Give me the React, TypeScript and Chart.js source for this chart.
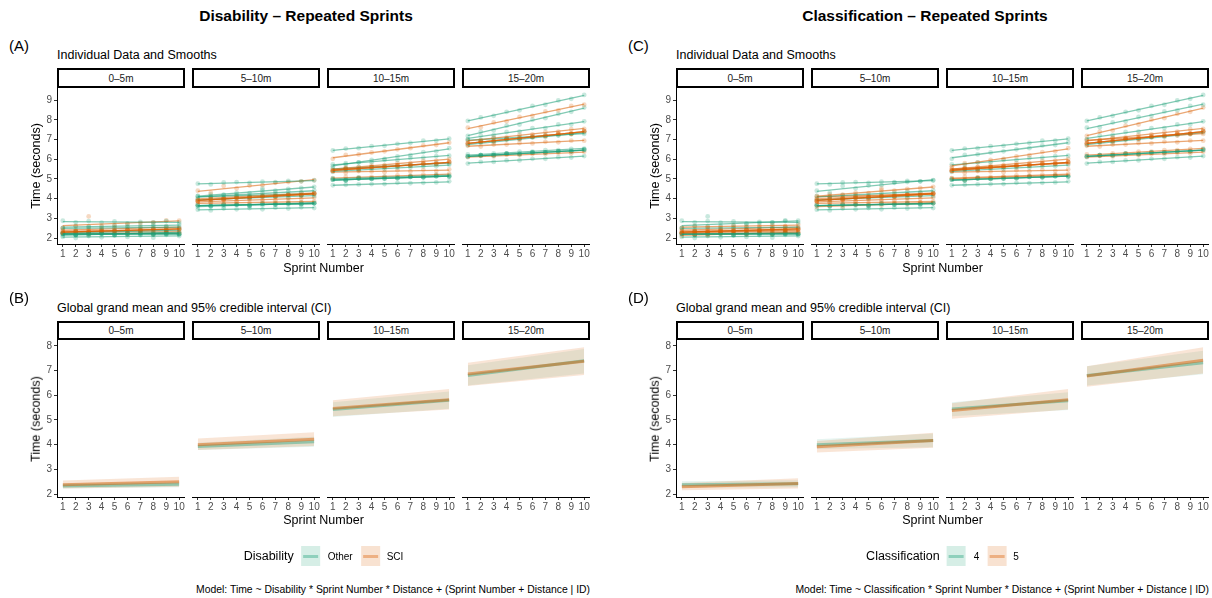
import React, { useEffect, useRef } from "react";
import { Chart, registerables } from "chart.js";

Chart.register(...registerables);

const FONT = "'Liberation Sans', Arial, Helvetica, sans-serif";
Chart.defaults.font.family = FONT;

// ---------------- DATA ----------------
const DISTANCES = ["0–5m", "5–10m", "10–15m", "15–20m"];
const SPRINTS = [1, 2, 3, 4, 5, 6, 7, 8, 9, 10];
const X_TICKS = [1, 2, 3, 4, 5, 6, 7, 8, 9, 10];
const Y_TICKS_A = [2, 3, 4, 5, 6, 7, 8, 9];
const Y_TICKS_B = [2, 3, 4, 5, 6, 7, 8];

const IDS = ["P1", "P2", "P3", "P4", "P5", "P6", "P7", "P8", "P9", "P10", "P11", "P12", "P13"];
const DISABILITY = ["Other", "SCI", "Other", "Other", "SCI", "SCI", "Other", "Other", "SCI", "Other", "Other", "SCI", "Other"];
const CLASSIFICATION = ["4", "4", "5", "4", "5", "5", "5", "4", "5", "4", "5", "5", "4"];
// number of recorded sessions per athlete (overlapping traces)
const SESSIONS = [1, 1, 1, 1, 1, 3, 1, 1, 1, 3, 1, 1, 1];

const TIME_0_5 = [
  [2.88, 2.80, 2.86, 2.78, 2.84, 2.74, 2.82, 2.80, 2.86, 2.78],
  [2.52, 2.60, 3.10, 2.62, 2.62, 2.70, 2.76, 2.80, 2.90, 2.88],
  [2.52, 2.62, 2.58, 2.55, 2.66, 2.58, 2.62, 2.68, 2.60, 2.68],
  [2.50, 2.44, 2.58, 2.48, 2.54, 2.56, 2.48, 2.60, 2.52, 2.56],
  [2.42, 2.36, 2.48, 2.44, 2.50, 2.44, 2.54, 2.50, 2.58, 2.52],
  [2.28, 2.34, 2.30, 2.38, 2.36, 2.42, 2.38, 2.46, 2.42, 2.46],
  [2.26, 2.22, 2.32, 2.28, 2.36, 2.30, 2.38, 2.40, 2.34, 2.42],
  [2.22, 2.16, 2.26, 2.20, 2.24, 2.28, 2.18, 2.26, 2.30, 2.22],
  [2.36, 2.30, 2.40, 2.34, 2.38, 2.28, 2.40, 2.34, 2.38, 2.32],
  [2.22, 2.16, 2.22, 2.24, 2.16, 2.22, 2.24, 2.18, 2.22, 2.20],
  [2.12, 2.18, 2.14, 2.22, 2.24, 2.18, 2.28, 2.22, 2.32, 2.28],
  [2.24, 2.30, 2.20, 2.28, 2.24, 2.20, 2.30, 2.22, 2.28, 2.26],
  [2.06, 2.00, 2.10, 2.04, 2.12, 2.06, 2.14, 2.02, 2.16, 2.10],
];
const TIME_5_10 = [
  [4.76, 4.72, 4.82, 4.84, 4.80, 4.86, 4.84, 4.90, 4.88, 4.92],
  [4.40, 4.30, 4.64, 4.52, 4.66, 4.68, 4.80, 4.84, 4.88, 4.94],
  [4.12, 4.22, 4.20, 4.30, 4.28, 4.42, 4.40, 4.50, 4.54, 4.60],
  [4.14, 4.06, 4.18, 4.20, 4.16, 4.28, 4.30, 4.38, 4.32, 4.42],
  [3.96, 4.08, 4.02, 4.12, 4.10, 4.16, 4.22, 4.18, 4.30, 4.28],
  [3.88, 3.98, 3.96, 4.04, 4.06, 4.12, 4.10, 4.20, 4.18, 4.26],
  [4.04, 4.12, 4.06, 4.14, 4.08, 4.52, 4.14, 4.20, 4.16, 4.22],
  [3.96, 3.90, 4.02, 4.04, 4.00, 4.08, 4.12, 4.06, 4.16, 4.14],
  [3.86, 3.82, 3.92, 3.88, 3.96, 3.94, 3.92, 4.02, 4.00, 4.06],
  [3.66, 3.62, 3.70, 3.70, 3.64, 3.74, 3.70, 3.76, 3.72, 3.76],
  [3.58, 3.66, 3.60, 3.68, 3.70, 3.66, 3.76, 3.72, 3.80, 3.78],
  [3.74, 3.80, 3.74, 3.82, 3.78, 3.84, 3.80, 3.86, 3.82, 3.86],
  [3.44, 3.40, 3.50, 3.46, 3.52, 3.46, 3.54, 3.50, 3.56, 3.52],
];
const TIME_10_15 = [
  [6.44, 6.54, 6.56, 6.66, 6.68, 6.78, 6.82, 6.94, 6.94, 7.04],
  [6.02, 6.22, 6.24, 6.34, 6.40, 6.50, 6.56, 6.70, 6.72, 6.84],
  [5.64, 5.80, 5.84, 5.96, 6.02, 6.14, 6.20, 6.36, 6.40, 6.56],
  [5.74, 5.72, 5.84, 5.84, 5.96, 5.96, 6.06, 6.08, 6.16, 6.18],
  [5.46, 5.58, 5.60, 5.68, 5.70, 5.80, 5.80, 5.92, 5.92, 6.02],
  [5.42, 5.52, 5.50, 5.60, 5.60, 5.68, 5.68, 5.78, 5.76, 5.86],
  [5.54, 5.50, 5.60, 5.58, 5.66, 5.64, 5.72, 5.72, 5.80, 5.78],
  [5.36, 5.46, 5.44, 5.52, 5.50, 5.58, 5.58, 5.64, 5.64, 5.72],
  [5.38, 5.30, 5.40, 5.38, 5.34, 5.44, 5.38, 5.46, 5.40, 5.48],
  [4.96, 4.92, 5.02, 5.00, 5.02, 5.04, 5.10, 5.08, 5.14, 5.12],
  [5.04, 4.96, 5.06, 5.04, 5.10, 5.08, 5.14, 5.12, 5.20, 5.18],
  [5.02, 5.10, 5.08, 5.10, 5.12, 5.18, 5.16, 5.22, 5.20, 5.26],
  [4.68, 4.70, 4.72, 4.74, 4.74, 4.80, 4.78, 4.80, 4.82, 4.88],
];
const TIME_15_20 = [
  [7.94, 8.12, 8.20, 8.40, 8.48, 8.70, 8.76, 8.98, 9.06, 9.26],
  [7.60, 7.62, 7.86, 7.92, 8.14, 8.20, 8.42, 8.48, 8.70, 8.76],
  [7.18, 7.40, 7.46, 7.70, 7.76, 8.00, 8.08, 8.30, 8.40, 8.62],
  [7.02, 7.20, 7.22, 7.38, 7.40, 7.58, 7.58, 7.76, 7.76, 7.92],
  [6.94, 6.96, 7.10, 7.10, 7.24, 7.26, 7.38, 7.40, 7.52, 7.54],
  [6.80, 6.88, 6.92, 7.02, 7.04, 7.14, 7.18, 7.28, 7.30, 7.42],
  [6.98, 6.96, 7.06, 7.06, 7.12, 7.12, 7.22, 7.20, 7.28, 7.28],
  [6.72, 6.84, 6.86, 6.98, 7.00, 7.10, 7.12, 7.22, 7.26, 7.36],
  [6.68, 6.64, 6.74, 6.74, 6.82, 6.80, 6.88, 6.86, 6.94, 6.94],
  [6.14, 6.20, 6.20, 6.28, 6.26, 6.34, 6.34, 6.40, 6.40, 6.48],
  [6.24, 6.20, 6.30, 6.30, 6.38, 6.38, 6.46, 6.46, 6.52, 6.54],
  [6.10, 6.16, 6.14, 6.22, 6.20, 6.26, 6.26, 6.32, 6.30, 6.38],
  [5.78, 5.86, 5.86, 5.94, 5.94, 6.02, 6.02, 6.10, 6.08, 6.16],
];
const TIMES = [TIME_0_5, TIME_5_10, TIME_10_15, TIME_15_20];

// Global grand mean and 95% CI at sprint 1 and sprint 10, per distance
const MEAN_SPRINTS = [1, 10];
const DIS_OTHER_MEAN = [[2.33, 2.40], [3.93, 4.12], [5.42, 5.80], [6.80, 7.40]];
const DIS_OTHER_LO = [[2.22, 2.28], [3.78, 3.92], [5.12, 5.45], [6.40, 6.88]];
const DIS_OTHER_HI = [[2.44, 2.52], [4.08, 4.32], [5.72, 6.15], [7.22, 7.88]];
const DIS_SCI_MEAN = [[2.38, 2.50], [4.00, 4.22], [5.47, 5.82], [6.86, 7.38]];
const DIS_SCI_LO = [[2.22, 2.30], [3.78, 3.95], [5.15, 5.42], [6.38, 6.82]];
const DIS_SCI_HI = [[2.55, 2.70], [4.25, 4.50], [5.80, 6.25], [7.32, 7.95]];

const CLS_4_MEAN = [[2.38, 2.42], [4.00, 4.17], [5.45, 5.78], [6.80, 7.32]];
const CLS_4_LO = [[2.25, 2.28], [3.82, 3.90], [5.15, 5.40], [6.40, 6.85]];
const CLS_4_HI = [[2.52, 2.56], [4.22, 4.45], [5.72, 6.12], [7.18, 7.80]];
const CLS_5_MEAN = [[2.30, 2.43], [3.92, 4.17], [5.38, 5.82], [6.78, 7.42]];
const CLS_5_LO = [[2.15, 2.22], [3.68, 3.88], [5.05, 5.42], [6.35, 6.88]];
const CLS_5_HI = [[2.45, 2.64], [4.15, 4.48], [5.68, 6.25], [7.18, 7.95]];

const DIS_LEVELS = ["Other", "SCI"];
const CLS_LEVELS = ["4", "5"];

// ---------------- STYLE / LAYOUT ----------------
const TEAL = [27, 158, 119];
const ORANGE = [217, 95, 2];
const rgba = (c: number[], a: number) => `rgba(${c[0]},${c[1]},${c[2]},${a})`;
const RIBBON_ALPHA = [0.11, 0.16];
const MEAN_ALPHA = [0.4, 0.48];

const HALF_X = [0, 619];
const FACET_LEFT = [57, 192, 327, 462];
const FACET_W = 128;
const Y_AXIS_W = 52;
const X_AXIS_H = 22;
const ROW_STRIP_TOP = [68, 321];
const ROW_STRIP_H = [20, 19];
const ROW_PLOT_TOP = [88, 340];
const ROW_PLOT_H = [156, 157];
const ROW_Y_RANGE = [
  [1.7, 9.61],
  [1.88, 8.24],
];
const ROW_Y_TICKS = [Y_TICKS_A, Y_TICKS_B];

function lmFit(ys: number[]) {
  const n = SPRINTS.length;
  const mx = SPRINTS.reduce((a, b) => a + b, 0) / n;
  const my = ys.reduce((a, b) => a + b, 0) / n;
  let sxy = 0;
  let sxx = 0;
  for (let i = 0; i < n; i++) {
    sxy += (SPRINTS[i] - mx) * (ys[i] - my);
    sxx += (SPRINTS[i] - mx) ** 2;
  }
  const b = sxy / sxx;
  const a = my - b * mx;
  const x0 = SPRINTS[0];
  const x1 = SPRINTS[n - 1];
  return [
    { x: x0, y: a + b * x0 },
    { x: x1, y: a + b * x1 },
  ];
}

function groupColor(half: number, i: number) {
  if (half === 0) return DISABILITY[i] === DIS_LEVELS[0] ? TEAL : ORANGE;
  return CLASSIFICATION[i] === CLS_LEVELS[0] ? TEAL : ORANGE;
}

function buildIndividual(half: number, d: number) {
  const ds: any[] = [];
  IDS.forEach((_, i) => {
    const col = groupColor(half, i);
    const ys = TIMES[d][i];
    for (let r = 0; r < SESSIONS[i]; r++) {
      ds.push({
        type: "scatter",
        data: SPRINTS.map((x, k) => ({ x, y: ys[k] })),
        showLine: false,
        pointRadius: 2.4,
        pointBackgroundColor: rgba(col, 0.24),
        pointBorderWidth: 0,
        pointBorderColor: "transparent",
        order: 2,
      });
      ds.push({
        type: "line",
        data: lmFit(ys),
        borderColor: rgba(col, 0.55),
        borderWidth: 1.3,
        pointRadius: 0,
        fill: false,
        order: 1,
      });
    }
  });
  return ds;
}

function buildMeans(half: number, d: number) {
  const groups =
    half === 0
      ? [
          { col: TEAL, m: DIS_OTHER_MEAN, lo: DIS_OTHER_LO, hi: DIS_OTHER_HI },
          { col: ORANGE, m: DIS_SCI_MEAN, lo: DIS_SCI_LO, hi: DIS_SCI_HI },
        ]
      : [
          { col: TEAL, m: CLS_4_MEAN, lo: CLS_4_LO, hi: CLS_4_HI },
          { col: ORANGE, m: CLS_5_MEAN, lo: CLS_5_LO, hi: CLS_5_HI },
        ];
  const ds: any[] = [];
  const pts = (arr: number[]) => MEAN_SPRINTS.map((x, k) => ({ x, y: arr[k] }));
  // first group drawn first (higher order = drawn earlier)
  groups.forEach((g, gi) => {
    const ribbonOrder = 10 - gi;
    ds.push({
      type: "line",
      data: pts(g.lo[d]),
      borderColor: "transparent",
      borderWidth: 0,
      pointRadius: 0,
      fill: false,
      order: ribbonOrder,
    });
    ds.push({
      type: "line",
      data: pts(g.hi[d]),
      borderColor: "transparent",
      borderWidth: 0,
      pointRadius: 0,
      fill: "-1",
      backgroundColor: rgba(g.col, RIBBON_ALPHA[gi]),
      order: ribbonOrder,
    });
  });
  groups.forEach((g, gi) => {
    ds.push({
      type: "line",
      data: pts(g.m[d]),
      borderColor: rgba(g.col, MEAN_ALPHA[gi]),
      borderWidth: 3,
      pointRadius: 0,
      fill: false,
      order: 5 - gi,
    });
  });
  return ds;
}

function Facet({ half, row, d }: { half: number; row: number; d: number }) {
  const ref = useRef<HTMLCanvasElement | null>(null);
  const first = d === 0;
  const left = HALF_X[half] + FACET_LEFT[d] - (first ? Y_AXIS_W : 0);
  const top = ROW_PLOT_TOP[row];
  const w = FACET_W + (first ? Y_AXIS_W : 0);
  const h = ROW_PLOT_H[row] + X_AXIS_H;

  useEffect(() => {
    if (!ref.current) return;
    const tickFont = { size: 10, family: FONT };
    const chart = new Chart(ref.current, {
      type: "scatter",
      data: { datasets: row === 0 ? buildIndividual(half, d) : buildMeans(half, d) },
      options: {
        animation: false,
        responsive: false,
        maintainAspectRatio: false,
        events: [],
        layout: { padding: 0, autoPadding: false },
        plugins: {
          legend: { display: false },
          title: { display: false },
          tooltip: { enabled: false },
        },
        scales: {
          x: {
            type: "linear",
            min: 0.55,
            max: 10.45,
            afterBuildTicks: (s: any) => {
              s.ticks = X_TICKS.map((v) => ({ value: v }));
            },
            afterFit: (s: any) => {
              s.height = X_AXIS_H;
              s.paddingLeft = 0;
              s.paddingRight = 0;
            },
            ticks: {
              font: tickFont,
              color: "#4D4D4D",
              padding: 1,
              maxRotation: 0,
              minRotation: 0,
              autoSkip: false,
            },
            grid: {
              drawOnChartArea: false,
              drawTicks: true,
              tickLength: 3,
              tickColor: "#333333",
              color: "#333333",
            },
            border: { display: true, color: "#000000", width: 1 },
          },
          y: {
            type: "linear",
            display: first,
            min: ROW_Y_RANGE[row][0],
            max: ROW_Y_RANGE[row][1],
            afterBuildTicks: (s: any) => {
              s.ticks = ROW_Y_TICKS[row].map((v) => ({ value: v }));
            },
            afterFit: (s: any) => {
              s.width = first ? Y_AXIS_W : 0;
              s.paddingTop = 0;
              s.paddingBottom = 0;
            },
            ticks: { font: tickFont, color: "#4D4D4D", padding: 2 },
            grid: {
              drawOnChartArea: false,
              drawTicks: true,
              tickLength: 3,
              tickColor: "#333333",
              color: "#333333",
            },
            border: { display: true, color: "#000000", width: 1 },
          },
        },
      } as any,
    });
    return () => chart.destroy();
  }, [half, row, d]);

  return (
    <canvas
      ref={ref}
      width={w}
      height={h}
      style={{ position: "absolute", left, top, width: w, height: h }}
    />
  );
}

function Txt(props: {
  x: number;
  y: number;
  size: number;
  children: React.ReactNode;
  anchor?: "start" | "middle" | "end";
  bold?: boolean;
  color?: string;
  rotate?: boolean;
}) {
  const { x, y, size, children, anchor = "start", bold, color = "#000", rotate } = props;
  const tx = anchor === "start" ? "0" : anchor === "middle" ? "-50%" : "-100%";
  return (
    <div
      style={{
        position: "absolute",
        left: x,
        top: y,
        transform: `translate(${tx},-50%)${rotate ? " rotate(-90deg)" : ""}`,
        fontSize: size,
        fontWeight: bold ? "bold" : "normal",
        color,
        whiteSpace: "nowrap",
        lineHeight: 1,
        fontFamily: FONT,
      }}
    >
      {children}
    </div>
  );
}

function Strip({ x, top, h, label }: { x: number; top: number; h: number; label: string }) {
  return (
    <div
      style={{
        position: "absolute",
        left: x,
        top,
        width: FACET_W,
        height: h,
        boxSizing: "border-box",
        border: "2px solid #000",
        background: "#fff",
        display: "flex",
        alignItems: "center",
        justifyContent: "center",
        fontSize: 10,
        color: "#1A1A1A",
        fontFamily: FONT,
      }}
    >
      {label}
    </div>
  );
}

function LegendKey({ col, a }: { col: number[]; a: number }) {
  return (
    <div
      style={{
        width: 19,
        height: 20,
        background: rgba(col, a),
        position: "relative",
      }}
    >
      <div
        style={{
          position: "absolute",
          left: 2,
          right: 2,
          top: 8.5,
          height: 3,
          background: rgba(col, 0.38),
        }}
      />
    </div>
  );
}

function Legend({ cx, title, levels }: { cx: number; title: string; levels: string[] }) {
  return (
    <div
      style={{
        position: "absolute",
        left: cx,
        top: 556,
        transform: "translate(-50%,-50%)",
        display: "flex",
        alignItems: "center",
        fontFamily: FONT,
        whiteSpace: "nowrap",
      }}
    >
      <span style={{ fontSize: 12.5, marginRight: 7 }}>{title}</span>
      <LegendKey col={TEAL} a={0.18} />
      <span style={{ fontSize: 10, marginLeft: 8, marginRight: 8 }}>{levels[0]}</span>
      <LegendKey col={ORANGE} a={0.18} />
      <span style={{ fontSize: 10, marginLeft: 7 }}>{levels[1]}</span>
    </div>
  );
}

function Half({ half }: { half: number }) {
  const ox = HALF_X[half];
  const title = half === 0 ? "Disability – Repeated Sprints" : "Classification – Repeated Sprints";
  const tags = half === 0 ? ["(A)", "(B)"] : ["(C)", "(D)"];
  const caption =
    half === 0
      ? "Model: Time ~ Disability * Sprint Number * Distance + (Sprint Number + Distance | ID)"
      : "Model: Time ~ Classification * Sprint Number * Distance + (Sprint Number + Distance | ID)";
  const subtitles = ["Individual Data and Smooths", "Global grand mean and 95% credible interval (CI)"];
  const panelCenter = ox + (FACET_LEFT[0] + FACET_LEFT[3] + FACET_W) / 2;
  return (
    <>
      <Txt x={ox + 306} y={16} size={15.5} bold anchor="middle">
        {title}
      </Txt>
      {[0, 1].map((row) => (
        <React.Fragment key={row}>
          <Txt x={ox + 9} y={row === 0 ? 45 : 297} size={15}>
            {tags[row]}
          </Txt>
          <Txt x={ox + 57} y={row === 0 ? 55 : 308} size={12.5}>
            {subtitles[row]}
          </Txt>
          {DISTANCES.map((lab, d) => (
            <React.Fragment key={d}>
              <Strip x={ox + FACET_LEFT[d]} top={ROW_STRIP_TOP[row]} h={ROW_STRIP_H[row]} label={lab} />
              <Facet half={half} row={row} d={d} />
            </React.Fragment>
          ))}
          <Txt x={panelCenter} y={row === 0 ? 268 : 520} size={12.5} anchor="middle">
            Sprint Number
          </Txt>
          <Txt
            x={ox + 36}
            y={ROW_PLOT_TOP[row] + ROW_PLOT_H[row] / 2}
            size={12.5}
            anchor="middle"
            rotate
          >
            Time (seconds)
          </Txt>
        </React.Fragment>
      ))}
      <Legend
        cx={panelCenter}
        title={half === 0 ? "Disability" : "Classification"}
        levels={half === 0 ? DIS_LEVELS : CLS_LEVELS}
      />
      <Txt x={ox + 590} y={590} size={10.4} anchor="end">
        {caption}
      </Txt>
    </>
  );
}

export default function App() {
  return (
    <div
      style={{
        position: "fixed",
        left: 0,
        top: 0,
        width: 1212,
        height: 598,
        background: "#fff",
        overflow: "hidden",
        fontFamily: FONT,
      }}
    >
      <Half half={0} />
      <Half half={1} />
    </div>
  );
}
